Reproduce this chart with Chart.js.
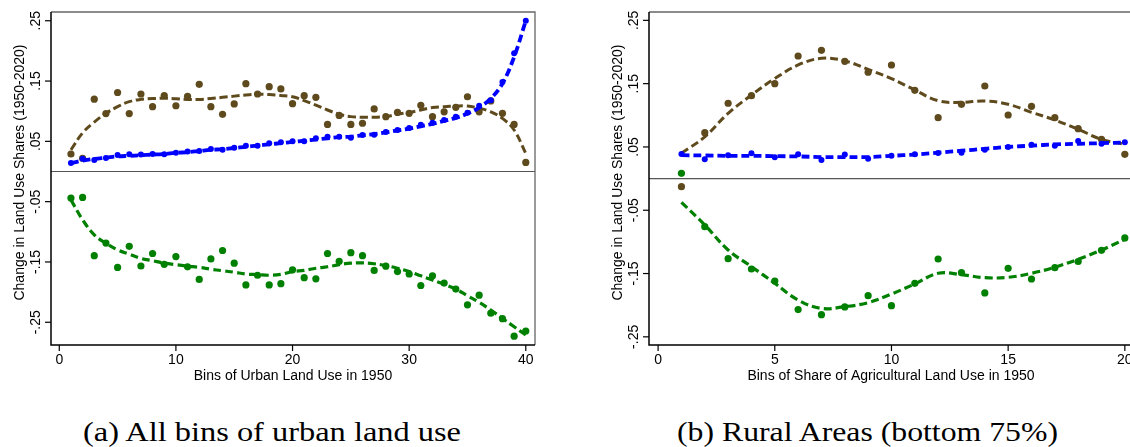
<!DOCTYPE html>
<html><head><meta charset="utf-8">
<script src="https://cdn.jsdelivr.net/npm/chart.js@4.4.1/dist/chart.umd.min.js"></script>
<style>
html,body{margin:0;padding:0;background:#fff;width:1130px;height:447px;overflow:hidden;position:relative}
#wrapA{position:absolute;left:0;top:0;width:545px;height:395px}
#wrapB{position:absolute;left:600px;top:0;width:545px;height:395px}
.cap{position:absolute;top:419px;font-family:"Liberation Serif",serif;font-size:27px;line-height:27px;white-space:nowrap;transform-origin:0 0;color:#000}
</style></head><body>
<div id="wrapA"><canvas id="cA" width="545" height="395"></canvas></div>
<div id="wrapB"><canvas id="cB" width="545" height="395"></canvas></div>
<div class="cap" id="capA" style="left:83px">(a) All bins of urban land use</div>
<div class="cap" id="capB" style="left:677px">(b) Rural Areas (bottom 75%)</div>
<script>
// ---------- DATA ----------
const binsUrban = [1,2,3,4,5,6,7,8,9,10,11,12,13,14,15,16,17,18,19,20,21,22,23,24,25,26,27,28,29,30,31,32,33,34,35,36,37,38,39,40];
const urbanBrownPts = [0.029,0.022,0.120,0.096,0.131,0.096,0.1285,0.1075,0.126,0.109,0.1247,0.1446,0.1075,0.0948,0.112,0.1456,0.1285,0.1406,0.137,0.1125,0.1257,0.123,0.078,0.093,0.078,0.080,0.1037,0.091,0.098,0.0965,0.1098,0.091,0.099,0.1065,0.124,0.099,0.117,0.0965,0.078,0.015];
const urbanBrownFit = [0.036,0.064,0.082,0.0965,0.1075,0.1158,0.1197,0.121,0.1215,0.1205,0.1195,0.1195,0.121,0.123,0.125,0.127,0.128,0.1275,0.126,0.124,0.1174,0.110,0.102,0.095,0.091,0.090,0.090,0.091,0.095,0.098,0.102,0.106,0.1075,0.1086,0.1086,0.105,0.099,0.088,0.0688,0.030];
const urbanBluePts = [0.014,0.021,0.019,0.0224,0.0274,0.0285,0.028,0.029,0.0285,0.031,0.033,0.034,0.0373,0.036,0.0395,0.0428,0.0428,0.0468,0.0484,0.050,0.0503,0.055,0.0577,0.0577,0.056,0.0605,0.061,0.0655,0.0688,0.0721,0.0776,0.081,0.0855,0.091,0.0975,0.109,0.118,0.1484,0.196,0.250];
const urbanBlueFit = [0.014,0.018,0.021,0.023,0.025,0.026,0.027,0.028,0.029,0.031,0.032,0.034,0.036,0.037,0.039,0.041,0.043,0.045,0.047,0.049,0.051,0.053,0.055,0.057,0.058,0.060,0.062,0.065,0.068,0.071,0.075,0.079,0.084,0.089,0.096,0.106,0.121,0.146,0.190,0.250];
const urbanGreenPts = [-0.044,-0.043,-0.1396,-0.1186,-0.159,-0.124,-0.1567,-0.136,-0.154,-0.141,-0.158,-0.179,-0.145,-0.131,-0.152,-0.188,-0.172,-0.188,-0.186,-0.163,-0.176,-0.178,-0.136,-0.149,-0.1346,-0.1396,-0.164,-0.157,-0.166,-0.170,-0.189,-0.173,-0.185,-0.195,-0.221,-0.205,-0.235,-0.244,-0.273,-0.2645];
const urbanGreenFit = [-0.047,-0.080,-0.105,-0.119,-0.130,-0.137,-0.144,-0.148,-0.152,-0.1545,-0.157,-0.159,-0.162,-0.1645,-0.167,-0.170,-0.171,-0.172,-0.1705,-0.166,-0.164,-0.1605,-0.158,-0.1545,-0.152,-0.1515,-0.153,-0.156,-0.1605,-0.166,-0.173,-0.180,-0.187,-0.195,-0.206,-0.217,-0.2297,-0.2435,-0.2574,-0.271];

const binsRural = [1,2,3,4,5,6,7,8,9,10,11,12,13,14,15,16,17,18,19,20];
const ruralBrownPts = [-0.0128,0.0725,0.119,0.131,0.150,0.1937,0.2027,0.1853,0.168,0.1795,0.1395,0.0962,0.1174,0.1463,0.1005,0.1142,0.0962,0.0788,0.062,0.0384];
const ruralBrownFit = [0.040,0.066,0.103,0.132,0.158,0.1795,0.190,0.186,0.1725,0.158,0.140,0.123,0.1205,0.1226,0.1174,0.1047,0.0926,0.0779,0.062,0.054];
const ruralBluePts = [0.0389,0.0305,0.0368,0.040,0.0336,0.0384,0.0294,0.038,0.0315,0.0362,0.0384,0.0404,0.041,0.0457,0.050,0.0536,0.052,0.0594,0.0552,0.0573];
const ruralBlueFit = [0.037,0.0365,0.036,0.036,0.0355,0.035,0.034,0.034,0.034,0.036,0.038,0.041,0.044,0.047,0.050,0.052,0.054,0.055,0.056,0.057];
const ruralGreenPts = [0.0084,-0.076,-0.1265,-0.1428,-0.1618,-0.207,-0.215,-0.2028,-0.185,-0.2008,-0.1654,-0.127,-0.1486,-0.1807,-0.1417,-0.1586,-0.1407,-0.131,-0.1133,-0.0938];
const ruralGreenFit = [-0.0375,-0.0733,-0.1128,-0.139,-0.1654,-0.1918,-0.205,-0.2023,-0.196,-0.1823,-0.1665,-0.1496,-0.1518,-0.1565,-0.156,-0.1496,-0.140,-0.1275,-0.1128,-0.0959];

const yTickValues = [0.25,0.15,0.05,-0.05,-0.15,-0.25];
const yTickLabels = ['.25','.15','.05','-.05','-.15','-.25'];
const xTicksUrban = [0,10,20,30,40];
const xTicksRural = [0,5,10,15,20];
const yTitle = 'Change in Land Use Shares (1950-2020)';
const xTitleUrban = 'Bins of Urban Land Use in 1950';
const xTitleRural = 'Bins of Share of Agricultural Land Use in 1950';

// ---------- STYLE ----------
const BROWN = '#5e4a1d', BLUE = '#0000ff', GREEN = '#008000';
const FONT = '"Liberation Sans", Arial, sans-serif';

function xy(xs, ys){ return xs.map((x,i)=>({x:x, y:ys[i]})); }

function axesPlugin(xTicks, xTitle){
  return {
    id:'stataAxes',
    beforeDatasetsDraw(chart){
      const {ctx, chartArea:a, scales:{x, y}} = chart;
      ctx.save();
      ctx.lineCap='butt';
      const y0 = y.getPixelForValue(0);
      ctx.strokeStyle='#555'; ctx.lineWidth=1.1;
      ctx.beginPath(); ctx.moveTo(a.left,y0); ctx.lineTo(a.right,y0); ctx.stroke();
      ctx.strokeStyle='#666'; ctx.lineWidth=1.3;
      ctx.beginPath(); ctx.moveTo(a.left,a.top); ctx.lineTo(a.right,a.top); ctx.lineTo(a.right,a.bottom); ctx.stroke();
      ctx.restore();
    },
    afterDraw(chart){
      const {ctx, chartArea:a, scales:{x, y}} = chart;
      ctx.save();
      ctx.strokeStyle='#000'; ctx.lineWidth=1.5;
      ctx.beginPath(); ctx.moveTo(a.left,a.top); ctx.lineTo(a.left,a.bottom); ctx.lineTo(a.right,a.bottom); ctx.stroke();
      ctx.lineWidth=1.2;
      ctx.fillStyle='#000';
      ctx.font='14px '+FONT;
      yTickValues.forEach((v,i)=>{
        const py = y.getPixelForValue(v);
        ctx.beginPath(); ctx.moveTo(a.left-6,py); ctx.lineTo(a.left,py); ctx.stroke();
        ctx.save();
        ctx.translate(a.left-11, py);
        ctx.rotate(-Math.PI/2);
        ctx.textAlign='center'; ctx.textBaseline='alphabetic';
        ctx.fillText(yTickLabels[i], 0, 0);
        ctx.restore();
      });
      xTicks.forEach(v=>{
        const px = x.getPixelForValue(v);
        ctx.beginPath(); ctx.moveTo(px,a.bottom); ctx.lineTo(px,a.bottom+6); ctx.stroke();
        ctx.textAlign='center'; ctx.textBaseline='alphabetic';
        ctx.fillText(String(v), px, a.bottom+19);
      });
      ctx.textAlign='center'; ctx.textBaseline='alphabetic';
      ctx.fillText(xTitle, (a.left+a.right)/2, a.bottom+34.5);
      ctx.save();
      ctx.translate(a.left-27, (a.top+a.bottom)/2 - 6);
      ctx.rotate(-Math.PI/2);
      ctx.fillText(yTitle, 0, 0);
      ctx.restore();
      ctx.restore();
    }
  };
}

function makeChart(id, bins, d, xr, yr, pad, xTicks, xTitle){
  const ptsDS = (data, color, r, order)=>({type:'scatter', data:data, showLine:false,
    pointRadius:r, pointHoverRadius:r, pointBackgroundColor:color, pointBorderColor:color, pointBorderWidth:0, order:order});
  const fitDS = (data, color, w, dash, order)=>({type:'scatter', data:data, showLine:true, fill:false,
    borderColor:color, borderWidth:w, borderDash:dash, tension:0.4, pointRadius:0, order:order});
  return new Chart(document.getElementById(id), {
    type:'scatter',
    data:{datasets:[
      ptsDS(xy(bins,d.blueP), BLUE, 3.0, 1),
      fitDS(xy(bins,d.blueF), BLUE, 3.8, [8,4], 2),
      ptsDS(xy(bins,d.brownP), BROWN, 3.6, 3),
      fitDS(xy(bins,d.brownF), BROWN, 3.0, [8,4], 4),
      ptsDS(xy(bins,d.greenP), GREEN, 3.6, 5),
      fitDS(xy(bins,d.greenF), GREEN, 3.2, [8,4], 6)
    ]},
    options:{
      responsive:false, animation:false, devicePixelRatio:1,
      layout:{padding:pad},
      plugins:{legend:{display:false}, tooltip:{enabled:false}},
      scales:{
        x:{type:'linear', min:xr[0], max:xr[1], display:false},
        y:{type:'linear', min:yr[0], max:yr[1], display:false}
      }
    },
    plugins:[axesPlugin(xTicks, xTitle)]
  });
}

makeChart('cA', binsUrban,
  {blueP:urbanBluePts, blueF:urbanBlueFit, brownP:urbanBrownPts, brownF:urbanBrownFit, greenP:urbanGreenPts, greenF:urbanGreenFit},
  [-0.71, 40.79], [-0.2877, 0.2645], {left:51, right:10, top:12, bottom:50}, xTicksUrban, xTitleUrban);
makeChart('cB', binsRural,
  {blueP:ruralBluePts, blueF:ruralBlueFit, brownP:ruralBrownPts, brownF:ruralBrownFit, greenP:ruralGreenPts, greenF:ruralGreenFit},
  [-0.39, 20.35], [-0.2629, 0.2632], {left:49, right:12, top:12, bottom:50}, xTicksRural, xTitleRural);

function fitCaption(id, target){
  const el = document.getElementById(id);
  const w = el.getBoundingClientRect().width;
  el.style.transform = 'scaleX(' + (target / w) + ')';
}
fitCaption('capA', 378);
fitCaption('capB', 381);
</script>
</body></html>
